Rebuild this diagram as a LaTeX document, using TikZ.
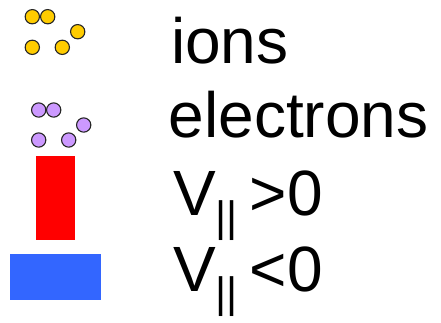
\documentclass[tikz,border=0pt]{standalone}
\usepackage{fontspec}
\setmainfont{Liberation Sans}
\usepackage{xcolor}
\definecolor{colorIon}{RGB}{255,204,0}
\definecolor{colorElectron}{RGB}{204,153,255}
\definecolor{colorPos}{RGB}{255,0,0}
\definecolor{colorNeg}{RGB}{51,102,255}
\usetikzlibrary{positioning}
\tikzset{
  particle/.style={circle, draw=black!85, line width=1.1pt, minimum size=14.3pt, inner sep=0pt},
  ion/.style={particle, fill=colorIon},
  electron/.style={particle, fill=colorElectron},
  swatch/.style={rectangle, draw=none, inner sep=0pt},
  legend/.style={anchor=base west, inner sep=0pt, font=\fontsize{64}{64}\selectfont},
}
\newcommand{\vpar}{V\raisebox{-16pt}{\fontsize{42.6}{42.6}\selectfont|| }}

\begin{document}
\begin{tikzpicture}[x=1pt, y=-1pt]
\useasboundingbox (0,0) rectangle (441,322);
% ions
\node[ion] (i1) at (32.3,16.7) {};
\node[ion] (i2) at (47.7,16.7) {};
\node[ion] (i3) at (77.7,31.7) {};
\node[ion] (i4) at (32.3,47.3) {};
\node[ion] (i5) at (62.3,47.3) {};
% electrons
\node[electron] (e1) at (38.7,110) {};
\node[electron] (e2) at (53.7,110) {};
\node[electron] (e3) at (83.7,125) {};
\node[electron] (e4) at (38.7,140) {};
\node[electron] (e5) at (68.7,140) {};
% parallel velocity
\node[swatch, fill=colorPos, minimum width=39pt, minimum height=84pt] (vp) at (55.5,198) {};
\node[swatch, fill=colorNeg, minimum width=91pt, minimum height=46pt] (vn) at (55.5,277) {};
% labels
\node[legend] (lion) at (170.8,63.3) {ions};
\node[legend] (lel) at (168.5,137.3) {electrons};
\node[legend] (lvp) at (173,215.7) {\vpar>0};
\node[legend] (lvn) at (173,291.7) {\vpar<0};
\end{tikzpicture}
\end{document}
